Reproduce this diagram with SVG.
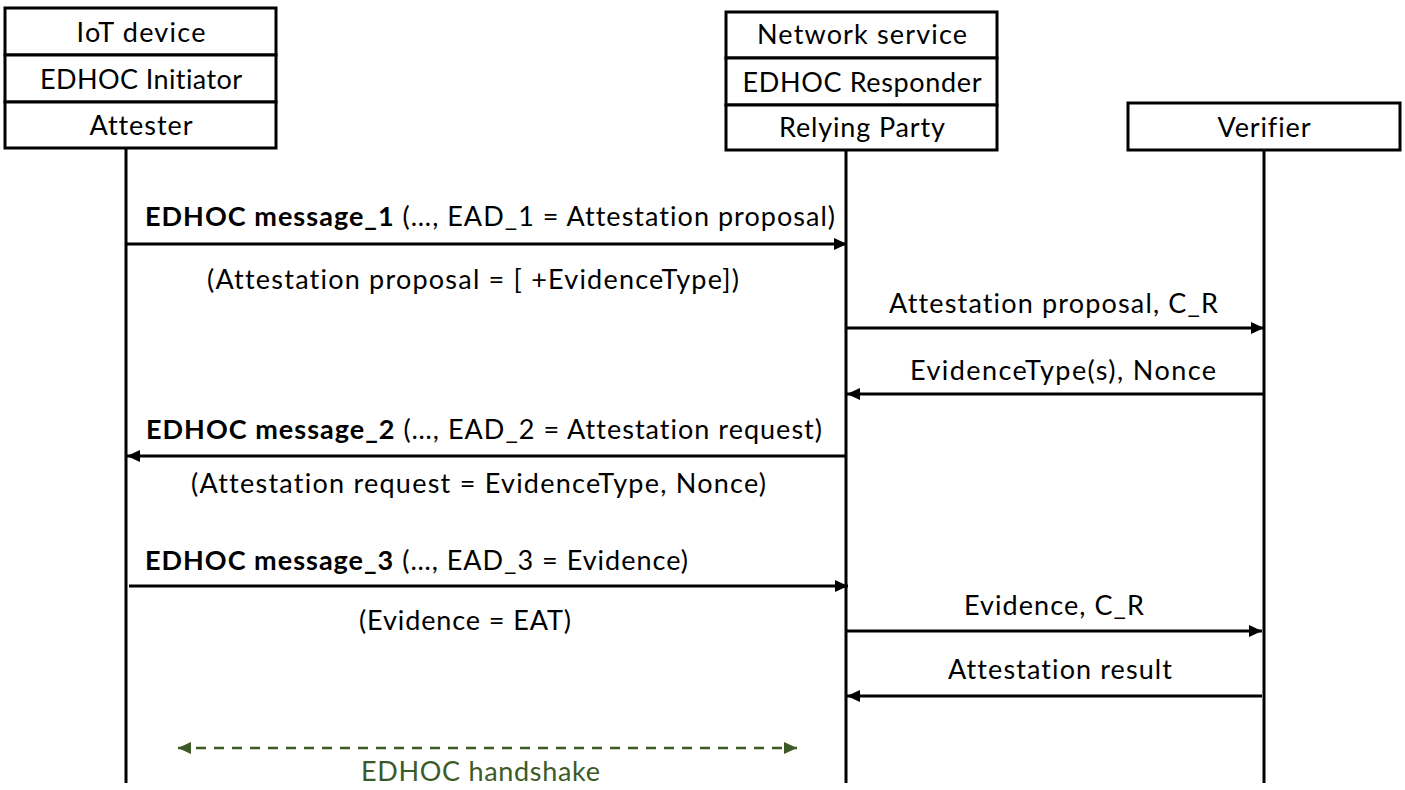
<svg xmlns="http://www.w3.org/2000/svg" width="1405" height="790" viewBox="0 0 1405 790">
<style>
text{font-family:Lato,"Open Sans","Liberation Sans",sans-serif;font-size:27px;fill:#000;font-variant-ligatures:none}
.c{text-anchor:middle}
.b{font-weight:bold}
.box{fill:#fff;stroke:#000;stroke-width:3}
.life{stroke:#000;stroke-width:3}
.msg{stroke:#000;stroke-width:2.8;fill:none}
.hs{stroke:#3c5a25;stroke-width:2.5;stroke-dasharray:10 8;fill:none}
.green{fill:#3c5a25}
</style>
<defs>
<marker id="ah" markerUnits="userSpaceOnUse" markerWidth="14" markerHeight="12" refX="13" refY="6" orient="auto-start-reverse">
<path d="M0,0 L13,6 L0,12 z" fill="#000"/>
</marker>
<marker id="gh" markerUnits="userSpaceOnUse" markerWidth="14" markerHeight="12" refX="13" refY="6" orient="auto-start-reverse">
<path d="M0,0 L13,6 L0,12 z" fill="#3c5a25"/>
</marker>
</defs>
<g id="lifelines">
<line class="life" x1="126" y1="148" x2="126" y2="783"/>
<line class="life" x1="846" y1="150" x2="846" y2="783"/>
<line class="life" x1="1264" y1="150" x2="1264" y2="783"/>
</g>
<g id="iot">
<rect class="box" x="5" y="8" width="271" height="47"/>
<rect class="box" x="5" y="55" width="271" height="47"/>
<rect class="box" x="5" y="102" width="271" height="46"/>
<text class="c" x="141" y="42" textLength="129">IoT device</text>
<text class="c" x="141" y="89" textLength="202">EDHOC Initiator</text>
<text class="c" x="141" y="135" textLength="103">Attester</text>
</g>
<g id="network">
<rect class="box" x="726" y="12" width="271" height="46"/>
<rect class="box" x="726" y="58" width="271" height="47"/>
<rect class="box" x="726" y="105" width="271" height="45"/>
<text class="c" x="862" y="44" textLength="210">Network service</text>
<text class="c" x="862" y="92" textLength="239">EDHOC Responder</text>
<text class="c" x="862" y="137" textLength="166">Relying Party</text>
</g>
<g id="verifier">
<rect class="box" x="1128" y="103" width="272" height="47"/>
<text class="c" x="1264" y="137" textLength="93">Verifier</text>
</g>
<g id="connectors">
<line class="msg" x1="127" y1="244" x2="847" y2="244" marker-end="url(#ah)"/>
<line class="msg" x1="847" y1="328" x2="1264" y2="328" marker-end="url(#ah)"/>
<line class="msg" x1="1264" y1="394" x2="847" y2="394" marker-end="url(#ah)"/>
<line class="msg" x1="846" y1="456" x2="127" y2="456" marker-end="url(#ah)"/>
<line class="msg" x1="129" y1="586" x2="848" y2="586" marker-end="url(#ah)"/>
<line class="msg" x1="847" y1="631" x2="1262" y2="631" marker-end="url(#ah)"/>
<line class="msg" x1="1262" y1="696" x2="847" y2="696" marker-end="url(#ah)"/>
<line class="hs" x1="178" y1="748" x2="797" y2="748" marker-start="url(#gh)" marker-end="url(#gh)"/>
</g>
<g id="labels">
<text x="145" y="226" textLength="690"><tspan class="b">EDHOC message_1</tspan> (…, EAD_1 = Attestation proposal)</text>
<text x="207" y="289" textLength="532">(Attestation proposal = [ +EvidenceType])</text>
<text x="889" y="313" textLength="329">Attestation proposal, C_R</text>
<text x="910" y="380" textLength="306">EvidenceType(s), Nonce</text>
<text x="146" y="439" textLength="676"><tspan class="b">EDHOC message_2</tspan> (…, EAD_2 = Attestation request)</text>
<text x="191" y="493" textLength="575">(Attestation request = EvidenceType, Nonce)</text>
<text x="145" y="570" textLength="543"><tspan class="b">EDHOC message_3</tspan> (…, EAD_3 = Evidence)</text>
<text x="359" y="630" textLength="212">(Evidence = EAT)</text>
<text x="964" y="615" textLength="180">Evidence, C_R</text>
<text x="948" y="679" textLength="224">Attestation result</text>
<text class="green" x="361" y="781" textLength="239">EDHOC handshake</text>
</g>
</svg>
